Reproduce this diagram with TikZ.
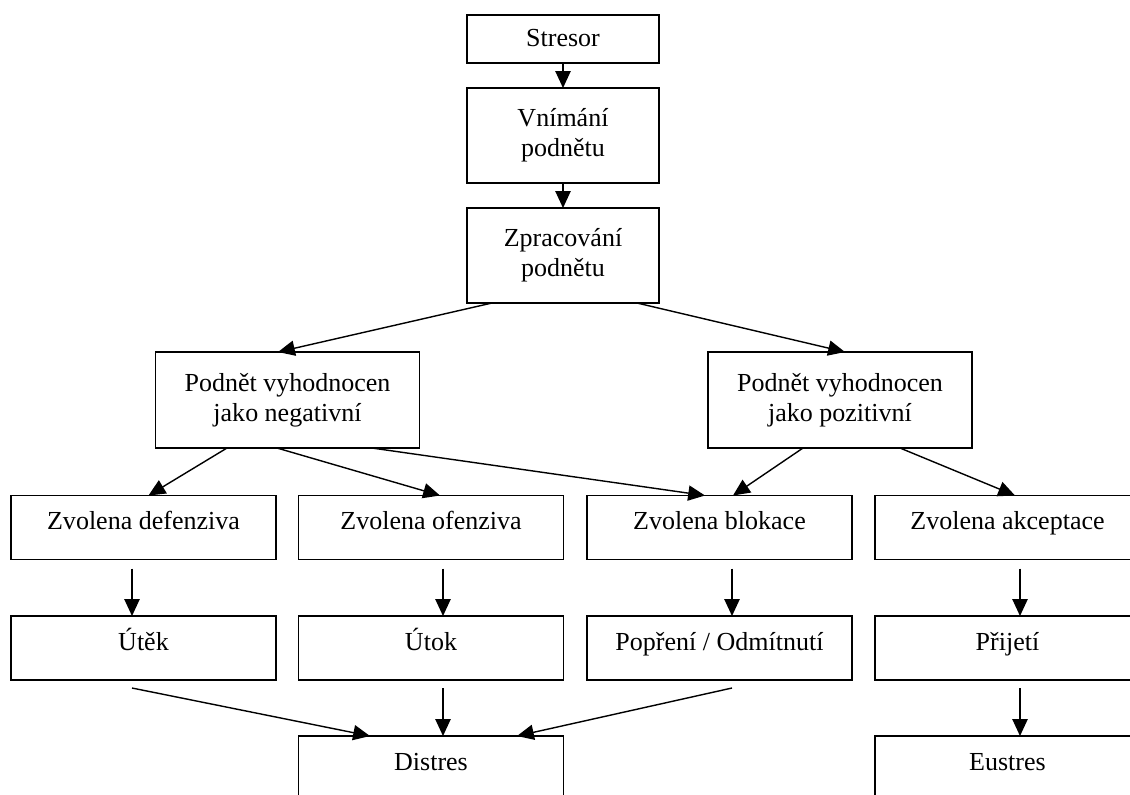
\documentclass[tikz,border=0pt]{standalone}
\usepackage{fontspec}
\setmainfont{Liberation Serif}
\usepackage{tikz}
\usetikzlibrary{arrows.meta, calc}

\begin{document}
\begin{tikzpicture}[x=0.25mm, y=-0.25mm,
  font=\fontsize{18.5pt}{21.3pt}\selectfont,
  box/.style={draw, line width=1pt, inner sep=0pt, outer sep=0pt},
  stresbox/.style={box, minimum width=48mm, minimum height=12mm, text height=1.05em, text depth=0pt},
  topbox/.style={box, align=center, minimum width=48mm, minimum height=23.75mm},
  evalbox/.style={box, align=center, minimum width=66mm, minimum height=24mm},
  rowbox/.style={box, minimum width=66.25mm, minimum height=16mm, text height=0.7em, text depth=0.38em},
  arr/.style={line width=1pt, -{Triangle[length=4.2mm, width=3.8mm]}}]

  \useasboundingbox (0,0) rectangle (1130,794);

  %% Chain at the top
  \node[stresbox] (stresor) at (563,39) {Stresor};
  \node[topbox] (vnimani) at (563,135.5) {Vnímání\\podnětu};
  \node[topbox] (zprac) at (563,255.5) {Zpracování\\podnětu};

  %% Evaluation
  \node[evalbox] (neg) at (287.5,400) {Podnět vyhodnocen\\jako negativní};
  \node[evalbox] (poz) at (840,400) {Podnět vyhodnocen\\jako pozitivní};

  %% Chosen strategy, reaction, outcome
  \foreach \nm/\x/\txt in {def/143.5/{Zvolena defenziva}, ofe/431/{Zvolena ofenziva},
                           blok/719.5/{Zvolena blokace}, akc/1007.5/{Zvolena akceptace}}{
    \node[rowbox] (\nm) at (\x,527.5) {\txt};
  }
  \foreach \nm/\x/\txt in {utek/143.5/{Útěk}, utok/431/{Útok},
                           popr/719.5/{Popření / Odmítnutí}, prij/1007.5/{Přijetí}}{
    \node[rowbox] (\nm) at (\x,648) {\txt};
  }
  \node[rowbox] (distres) at (431,768) {Distres};
  \node[rowbox] (eustres) at (1007.5,768) {Eustres};

  %% Connectors
  \draw[arr] (stresor) -- (vnimani);
  \draw[arr] (vnimani) -- (zprac);
  \draw[arr] ($(zprac.south)+(-71,0)$) -- ($(neg.north)+(-9.5,0)$);
  \draw[arr] ($(zprac.south)+(74,0)$) -- ($(poz.north)+(5,0)$);

  \draw[arr] ($(neg.south)+(-60.5,0)$) -- ($(def.north)+(5,0)$);
  \draw[arr] ($(neg.south)+(-10.5,0)$) -- ($(ofe.north)+(9,0)$);
  \draw[arr] ($(neg.south)+(84.5,0)$) -- ($(blok.north)+(-14.5,0)$);
  \draw[arr] ($(poz.south)+(-37,0)$) -- ($(blok.north)+(13.5,0)$);
  \draw[arr] ($(poz.south)+(60,0)$) -- ($(akc.north)+(7.5,0)$);

  \draw[arr] ($(def.south)+(-11.5,9)$) -- ($(utek.north)+(-11.5,0)$);
  \draw[arr] ($(ofe.south)+(12,9)$) -- ($(utok.north)+(12,0)$);
  \draw[arr] ($(blok.south)+(12.5,9)$) -- ($(popr.north)+(12.5,0)$);
  \draw[arr] ($(akc.south)+(12.5,9)$) -- ($(prij.north)+(12.5,0)$);

  \draw[arr] ($(utek.south)+(-11.5,8)$) -- ($(distres.north)+(-61,0)$);
  \draw[arr] ($(utok.south)+(12,8)$) -- ($(distres.north)+(12,0)$);
  \draw[arr] ($(popr.south)+(12.5,8)$) -- ($(distres.north)+(86,0)$);
  \draw[arr] ($(prij.south)+(12.5,8)$) -- ($(eustres.north)+(12.5,0)$);

\end{tikzpicture}
\end{document}
